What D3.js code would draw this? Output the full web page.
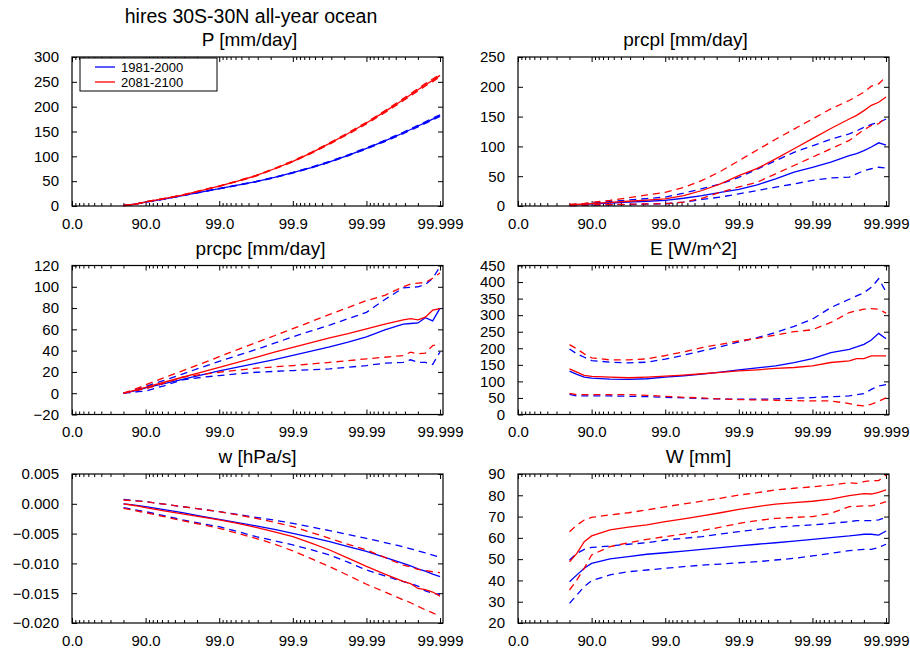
<!DOCTYPE html>
<html>
<head>
<meta charset="utf-8">
<script src="https://cdn.jsdelivr.net/npm/d3@7"></script>
<style>
body { margin: 0; background: #fff; }
svg text { font-family: "Liberation Sans", Arial, Helvetica, sans-serif; fill: #000; }
</style>
</head>
<body>
<script>
// x position = -log10(1 - percentile/100)
var lx = [0.7, 0.8, 0.9, 1.0, 1.25, 1.5, 1.75, 2.0, 2.25, 2.5, 2.75, 3.0, 3.25, 3.5, 3.75, 4.0, 4.25, 4.5, 4.6, 4.7, 4.8, 4.9, 5.0];
var xTicks = [0, 1, 2, 3, 4, 5];
var xTickLabels = ["0.0", "90.0", "99.0", "99.9", "99.99", "99.999"];
var periods = ["1981-2000", "2081-2100"];

// P [mm/day]
var P_b    = [1, 2.5, 5, 8, 14, 21, 28, 35, 42, 49, 57.5, 67, 77.5, 89, 102, 116, 131, 147, 154, 161, 168, 175, 182];
var P_b_hi = [1.2, 2.7, 5.2, 8.2, 14.3, 21.3, 28.4, 35.4, 42.5, 49.5, 58.1, 67.7, 78.3, 89.9, 103, 117.2, 132.3, 148.5, 155.5, 162.6, 169.7, 176.8, 183.8];
var P_b_lo = [0.8, 2.3, 4.8, 7.8, 13.7, 20.7, 27.6, 34.6, 41.5, 48.5, 56.9, 66.3, 76.7, 88.1, 101, 114.8, 129.7, 145.5, 152.5, 159.4, 166.3, 173.3, 180.2];
var P_r    = [1, 2.5, 5, 8.5, 15, 22, 31, 40, 50, 61, 75, 90, 107, 126, 146, 167, 190, 214, 224, 234, 244, 253, 263];
var P_r_hi = [1.2, 2.7, 5.2, 8.7, 15.3, 22.3, 31.4, 40.5, 50.6, 61.7, 75.8, 91, 108.1, 127.3, 147.5, 168.7, 191.9, 216.2, 226.3, 236.4, 246.5, 255.6, 265.6];
var P_r_lo = [0.8, 2.3, 4.8, 8.3, 14.7, 21.7, 30.6, 39.5, 49.4, 60.3, 74.2, 89, 105.9, 124.7, 144.5, 165.3, 188.1, 211.8, 221.8, 231.7, 241.6, 250.5, 260.4];

// prcpl [mm/day]
var L_b    = [1.5, 2.2, 2.8, 3.5, 5, 6.5, 8, 9.5, 13, 17.5, 23, 28, 35.5, 45.5, 57, 65, 73.5, 84.5, 88, 93, 99, 106, 102];
var L_b_hi = [2, 3, 3.8, 5, 7.5, 10, 12.5, 15, 21.5, 29, 37, 48, 62, 76, 90, 101, 112, 121, 126, 132, 137, 140, 146];
var L_b_lo = [0.5, 0.8, 1.1, 1.5, 2, 2.5, 3, 3.7, 6.5, 11, 15, 20.5, 26, 31.5, 37, 43, 47, 48.5, 54, 59.5, 62.5, 65, 63.5];
var L_r    = [1.5, 2.5, 3.2, 4, 6, 8, 10, 12, 17.5, 26, 37, 51, 63, 79, 96, 113, 130, 146, 152, 160, 169, 174, 183];
var L_r_hi = [2.5, 3.5, 4.5, 6, 9.5, 14, 18.5, 23, 31, 43, 58, 76, 94, 112, 129, 146, 163, 177, 184, 191, 201, 205, 217];
var L_r_lo = [0.5, 1, 1.5, 2, 2.5, 3, 3.5, 4, 6.5, 13, 23, 32, 40, 54, 68, 82, 96, 110, 119, 128, 135, 138, 149];

// prcpc [mm/day]
var C_b    = [0, 1.5, 3, 5, 9, 13, 17, 21, 24.5, 28, 31.5, 35.5, 39.5, 43.5, 48, 53, 59.5, 65, 65.5, 66, 71, 68, 80];
var C_b_hi = [0, 2, 4, 6.5, 12, 18, 24, 30, 35.5, 41, 47, 53, 58.5, 64, 70, 76, 88, 99, 99.5, 100, 102, 108, 119];
var C_b_lo = [0, 0.7, 1.4, 2, 7, 12.5, 14.8, 16.6, 18.2, 19.7, 20.5, 21.3, 22.1, 22.9, 24.4, 26, 28.2, 29, 31.4, 29, 29, 27, 39];
var C_r    = [0, 1.8, 3.7, 5.6, 10.3, 15, 19.5, 24.3, 29, 33.7, 38.5, 43, 47.5, 52, 56, 60.5, 65, 69, 70, 69, 71.5, 78, 79.5];
var C_r_hi = [0, 2.5, 5, 7.9, 14.5, 21, 27.5, 34.3, 41, 47.5, 54, 60.7, 67.3, 74, 80.5, 87, 92, 100, 102.5, 103.5, 104, 108, 113];
var C_r_lo = [0, 1.5, 3, 4, 9.5, 15, 17.5, 19.7, 21.7, 23.5, 24.8, 26, 27.5, 29, 30.5, 32.3, 33.8, 35.4, 38.5, 37, 37.6, 44.8, 46.4];

// E [W/m^2]
var E_b    = [131, 121, 113, 110, 107, 106, 108, 113, 117, 122, 128, 135, 141, 147, 157, 169, 187, 197, 204, 212, 225, 245, 229];
var E_b_hi = [198, 183, 173, 163, 158, 156, 158, 167, 179, 192, 205, 219, 232, 248, 266, 288, 323, 348, 358, 368, 384, 410, 370];
var E_b_lo = [61, 56, 56, 56, 56, 55, 54, 52, 50, 48, 47, 46, 46, 47, 49, 51, 54, 56, 60, 63, 76, 86, 90];
var E_r    = [138, 128, 118, 115, 113, 111, 113, 116, 119, 123, 127, 132, 135, 139, 142, 147, 157, 162, 169, 169, 177, 177, 177];
var E_r_hi = [211, 198, 183, 171, 165, 165, 168, 178, 189, 202, 212, 222, 230, 240, 250, 256, 278, 308, 313, 318, 320, 318, 306];
var E_r_lo = [64, 60, 60, 60, 60, 60, 58, 55, 52, 50, 47, 45, 44, 43, 42, 41, 41, 33, 28, 26, 31, 40, 50];

// w [hPa/s]
var w_b    = [0.0000, -0.00015, -0.0003, -0.00048, -0.00098, -0.00149, -0.00205, -0.0026, -0.00315, -0.0037, -0.0043, -0.00495, -0.00565, -0.00635, -0.0072, -0.008, -0.009, -0.01, -0.0104, -0.0109, -0.0113, -0.0118, -0.0122];
var w_b_hi = [0.00075, 0.0006, 0.0005, 0.00036, -0.00006, -0.00048, -0.0009, -0.00132, -0.0018, -0.00227, -0.00275, -0.00327, -0.0039, -0.0045, -0.00515, -0.0058, -0.0065, -0.0072, -0.00755, -0.0079, -0.00825, -0.0086, -0.009];
var w_b_lo = [-0.00065, -0.00085, -0.0011, -0.00132, -0.002, -0.0027, -0.0033, -0.00384, -0.00465, -0.0055, -0.0062, -0.0069, -0.0077, -0.0086, -0.0098, -0.0111, -0.0121, -0.01306, -0.0134, -0.0138, -0.0146, -0.015, -0.0152];
var w_r    = [0.0000, -0.0002, -0.0004, -0.00065, -0.00118, -0.0017, -0.0022, -0.0027, -0.0033, -0.00395, -0.0047, -0.0055, -0.0066, -0.00775, -0.0091, -0.0105, -0.0118, -0.013, -0.0134, -0.0142, -0.0144, -0.0148, -0.0155];
var w_r_hi = [0.00064, 0.00055, 0.00045, 0.00036, -0.00006, -0.00048, -0.0009, -0.00132, -0.00185, -0.00244, -0.0031, -0.00384, -0.0048, -0.0058, -0.0068, -0.00775, -0.009, -0.0103, -0.0106, -0.011, -0.0112, -0.0114, -0.01155];
var w_r_lo = [-0.00076, -0.001, -0.00125, -0.00149, -0.00215, -0.00283, -0.00345, -0.00412, -0.00495, -0.0058, -0.00675, -0.0079, -0.0092, -0.01055, -0.012, -0.0135, -0.0148, -0.0161, -0.0166, -0.0172, -0.0178, -0.0183, -0.0189];

// W [mm]
var Q_b    = [39.4, 42.6, 45.7, 48, 50.1, 51.2, 52.3, 53, 53.8, 54.6, 55.4, 56.2, 57, 57.7, 58.5, 59.3, 60.1, 60.9, 61.3, 61.7, 61.7, 61.3, 63.2];
var Q_b_hi = [49.6, 52.7, 54.6, 55.5, 56.2, 57, 57.7, 59, 59.8, 60.6, 61.8, 62.9, 64, 65, 65.6, 66.1, 66.8, 67.6, 68.1, 68.1, 68.1, 68.4, 69.6];
var Q_b_lo = [29.2, 33.2, 37.1, 39.9, 42.6, 44.1, 44.9, 45.7, 46.5, 47.2, 47.7, 48.3, 48.8, 49.6, 50.4, 51.5, 52.7, 54, 54.3, 54.6, 54.6, 55.5, 57];
var Q_r    = [48.8, 52.7, 58.2, 60.9, 63.7, 65, 66.1, 67.6, 68.9, 70.3, 71.8, 73.4, 74.7, 75.8, 76.6, 77.2, 78.2, 79.8, 80.3, 80.8, 80.6, 81.4, 82.5];
var Q_r_hi = [62.9, 66, 68.4, 69.6, 70.8, 71.8, 73.1, 74.6, 75.9, 77.3, 78.6, 80.1, 81.2, 82.5, 83.3, 84, 84.8, 85.9, 85.6, 86.4, 86.9, 86.9, 89.5];
var Q_r_lo = [35.5, 40.2, 45.7, 52, 55.9, 57.7, 59.3, 60.6, 61.8, 63.4, 65, 66.8, 68.1, 69.2, 69.6, 70, 71.5, 74.7, 74.8, 75, 75, 75.9, 77];

var blue = "#0000ff", red = "#ff0000";

var panels = [
  {title: "P [mm/day]", col: 0, row: 0, tdx: -8, y: [0, 300], ticks: d3.range(0, 301, 50), fmt: d3.format("d"),
   lines: [[P_b_lo, blue, 1], [P_b_hi, blue, 1], [P_b, blue, 0], [P_r_lo, red, 1], [P_r_hi, red, 1], [P_r, red, 0]]},
  {title: "prcpl [mm/day]", col: 1, row: 0, tdx: -18, y: [0, 250], ticks: d3.range(0, 251, 50), fmt: d3.format("d"),
   lines: [[L_b_lo, blue, 1], [L_b_hi, blue, 1], [L_b, blue, 0], [L_r_lo, red, 1], [L_r_hi, red, 1], [L_r, red, 0]]},
  {title: "prcpc [mm/day]", col: 0, row: 1, tdx: 3, y: [-20, 120], ticks: d3.range(-20, 121, 20), fmt: d3.format("d"),
   lines: [[C_b_lo, blue, 1], [C_b_hi, blue, 1], [C_b, blue, 0], [C_r_lo, red, 1], [C_r_hi, red, 1], [C_r, red, 0]]},
  {title: "E [W/m^2]", col: 1, row: 1, tdx: -10, y: [0, 450], ticks: d3.range(0, 451, 50), fmt: d3.format("d"),
   lines: [[E_b_lo, blue, 1], [E_b_hi, blue, 1], [E_b, blue, 0], [E_r_lo, red, 1], [E_r_hi, red, 1], [E_r, red, 0]]},
  {title: "w [hPa/s]", col: 0, row: 2, tdx: 0, y: [-0.02, 0.005], ticks: [-0.02, -0.015, -0.01, -0.005, 0, 0.005], fmt: d3.format(".3f"),
   lines: [[w_b_lo, blue, 1], [w_b_hi, blue, 1], [w_b, blue, 0], [w_r_lo, red, 1], [w_r_hi, red, 1], [w_r, red, 0]]},
  {title: "W [mm]", col: 1, row: 2, tdx: -5, y: [20, 90], ticks: d3.range(20, 91, 10), fmt: d3.format("d"),
   lines: [[Q_b_lo, blue, 1], [Q_b_hi, blue, 1], [Q_b, blue, 0], [Q_r_lo, red, 1], [Q_r_hi, red, 1], [Q_r, red, 0]]}
];

var colX = [72, 518];
var rowY = [57, 265.5, 474];
var pw = 371, ph = 149;

var svg = d3.select("body").append("svg")
  .attr("width", 910)
  .attr("height", 650);

var x = d3.scaleLinear().domain([0, 5.04]).range([0, pw]);

// minor ticks: 10%..80% exceedance inside each decade
var minorTicks = [];
for (var k = 0; k < 5; k++) {
  [0.9, 0.8, 0.7, 0.6, 0.5, 0.4, 0.3, 0.2].forEach(function(f) {
    minorTicks.push(k - Math.log10(f));
  });
}

function cleanAxis(g) {
  g.select(".domain").remove();
  g.selectAll(".tick line").attr("stroke", "#000");
  g.attr("font-size", 15).attr("font-family", "Liberation Sans, Arial, sans-serif");
}

svg.append("text")
  .attr("x", 251)
  .attr("y", 23)
  .attr("text-anchor", "middle")
  .attr("font-size", 19.5)
  .text("hires 30S-30N all-year ocean");

panels.forEach(function(p) {
  var g = svg.append("g")
    .attr("transform", "translate(" + colX[p.col] + "," + rowY[p.row] + ")");

  var y = d3.scaleLinear().domain(p.y).range([ph, 0]);

  g.append("text")
    .attr("x", pw / 2 + p.tdx)
    .attr("y", -11)
    .attr("text-anchor", "middle")
    .attr("font-size", 19)
    .text(p.title);

  // bottom axis with labels
  g.append("g")
    .attr("transform", "translate(0," + ph + ")")
    .call(d3.axisBottom(x).tickValues(xTicks).tickSize(-5).tickPadding(12)
      .tickFormat(function(d, i) { return xTickLabels[i]; }))
    .call(cleanAxis);
  g.append("g")
    .attr("transform", "translate(0," + ph + ")")
    .call(d3.axisBottom(x).tickValues(minorTicks).tickSize(-3).tickFormat(""))
    .call(cleanAxis);
  // top mirror
  g.append("g")
    .call(d3.axisTop(x).tickValues(xTicks).tickSize(-5).tickFormat(""))
    .call(cleanAxis);
  g.append("g")
    .call(d3.axisTop(x).tickValues(minorTicks).tickSize(-3).tickFormat(""))
    .call(cleanAxis);

  // y axes
  g.append("g")
    .call(d3.axisLeft(y).tickValues(p.ticks).tickSize(-5).tickPadding(13).tickFormat(p.fmt))
    .call(cleanAxis);
  g.append("g")
    .attr("transform", "translate(" + pw + ",0)")
    .call(d3.axisRight(y).tickValues(p.ticks).tickSize(-5).tickFormat(""))
    .call(cleanAxis);

  var line = d3.line()
    .x(function(d, i) { return x(lx[i]); })
    .y(function(d) { return y(d); });

  p.lines.forEach(function(s) {
    g.append("path")
      .datum(s[0])
      .attr("fill", "none")
      .attr("stroke", s[1])
      .attr("stroke-width", 1.3)
      .attr("stroke-dasharray", s[2] ? "7,5" : null)
      .attr("d", line);
  });

  g.append("rect")
    .attr("width", pw)
    .attr("height", ph)
    .attr("fill", "none")
    .attr("stroke", "#000")
    .attr("stroke-width", 1.2);
});

// legend in the first panel
var leg = svg.append("g").attr("transform", "translate(80,58)");
leg.append("rect")
  .attr("width", 137)
  .attr("height", 33)
  .attr("fill", "#fff")
  .attr("stroke", "#000")
  .attr("stroke-width", 1);
[blue, red].forEach(function(c, i) {
  leg.append("line")
    .attr("x1", 15).attr("x2", 35)
    .attr("y1", 9 + i * 15).attr("y2", 9 + i * 15)
    .attr("stroke", c)
    .attr("stroke-width", 1.3);
  leg.append("text")
    .attr("x", 41)
    .attr("y", 9 + i * 15)
    .attr("dy", "0.35em")
    .attr("font-size", 13)
    .text(periods[i]);
});
</script>
</body>
</html>
